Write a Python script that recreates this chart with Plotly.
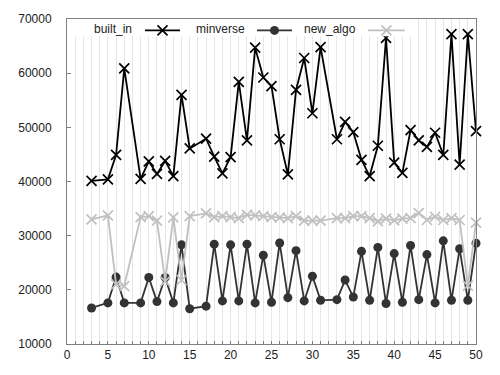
import plotly.graph_objects as go

x_vals = [3, 5, 6, 7, 9, 10, 11, 12, 13, 14, 15,
          17, 18, 19, 20, 21, 22, 23, 24, 25, 26, 27, 28, 29, 30, 31,
          33, 34, 35, 36, 37, 38, 39, 40, 41, 42, 43, 44, 45, 46, 47, 48, 49, 50]

built_in = [40100, 40400, 44900, 60900, 40500, 43700, 41400, 43800, 41000, 56000, 46100,
            47900, 44600, 41500, 44500, 58400, 47600, 64700, 59200, 57600, 47800, 41300,
            56900, 62800, 52600, 64800,
            47800, 51000, 49100, 44000, 41000, 46600, 66500, 43500, 41600, 49500, 47600,
            46400, 49000, 44900, 67200, 43100, 67200, 49300]

minverse = [16650, 17590, 22350, 17590, 17590, 22290, 17830, 22290, 17590, 28310, 16510,
            16990, 28430, 17950, 28310, 17950, 28430, 17590, 26390, 17710, 28650, 18550,
            27230, 17950, 22530, 18070,
            18190, 21810, 18670, 27110, 18070, 27830, 17470, 26690, 17710, 28190, 18190,
            26510, 17590, 29040, 18070, 27590, 18070, 28610]

new_algo = [33010, 33730, 21000, 20700, 33430, 33610, 32770, 21550, 33370, 21800, 33610,
            34100, 33430, 33610, 33430, 33250, 33850, 33730, 33610, 33430, 33340, 33250,
            33610, 32770, 32770, 32770,
            33250, 33250, 33610, 33610, 33250, 32650, 33130, 32830, 33130, 33250, 34160,
            32890, 33490, 32890, 33250, 32890, 20780, 32410]

series_names = ["built_in", "minverse", "new_algo"]
y_ticks = [10000, 20000, 30000, 40000, 50000, 60000, 70000]

BLACK = "#000000"
DARK = "#333333"
LIGHT = "#c0c0c0"
FONT = "Liberation Sans, Arial, sans-serif"

styles = {
    "built_in": dict(line=dict(color=BLACK, width=1.8),
                     marker=dict(symbol="x-thin", size=10, color=BLACK,
                                 line=dict(width=1.7, color=BLACK))),
    "minverse": dict(line=dict(color=DARK, width=1.8),
                     marker=dict(symbol="circle", size=9, color=DARK,
                                 line=dict(width=0))),
    "new_algo": dict(line=dict(color=LIGHT, width=1.8),
                     marker=dict(symbol="x-thin", size=10, color=LIGHT,
                                 line=dict(width=1.7, color=LIGHT))),
}

fig = go.Figure()
for name, ys in zip(series_names, [built_in, minverse, new_algo]):
    fig.add_trace(go.Scatter(x=x_vals, y=ys, mode="lines+markers", name=name,
                             showlegend=False, cliponaxis=False, **styles[name]))

# Custom key (gnuplot style: label then sample) on an overlay axis in 0..1 units
key_box_right = 0.851
key_box_bottom = 0.947
fig.add_trace(go.Scatter(x=[0, key_box_right, key_box_right, 0, 0],
                         y=[key_box_bottom, key_box_bottom, 1, 1, key_box_bottom],
                         xaxis="x2", yaxis="y2", mode="lines", fill="toself",
                         fillcolor="white", line=dict(width=0), hoverinfo="skip",
                         showlegend=False))
key_text_right = [0.1638, 0.440, 0.7115]
key_line = [(0.1907, 0.2763), (0.4645, 0.5501), (0.736, 0.826)]
key_y = 0.965
for name, tr, (l0, l1) in zip(series_names, key_text_right, key_line):
    st = styles[name]
    fig.add_trace(go.Scatter(x=[l0, l1], y=[key_y, key_y], xaxis="x2", yaxis="y2",
                             mode="lines", line=st["line"], hoverinfo="skip",
                             showlegend=False))
    fig.add_trace(go.Scatter(x=[(l0 + l1) / 2], y=[key_y], xaxis="x2", yaxis="y2",
                             mode="markers", marker=st["marker"], hoverinfo="skip",
                             showlegend=False))
    fig.add_annotation(text=name, xref="paper", yref="paper", x=tr, y=0.968,
                       xanchor="right", yanchor="middle", showarrow=False,
                       font=dict(family=FONT, size=12, color="#222"))

fig.update_layout(
    width=500, height=375,
    margin=dict(l=67, r=24, t=15, b=31),
    paper_bgcolor="white", plot_bgcolor="white",
    font=dict(family=FONT, size=12, color="#222"),
    xaxis=dict(range=[0, 50], dtick=5, tick0=0, showgrid=True, gridcolor="#e6e6e6",
               gridwidth=1, zeroline=False, showline=True, linecolor="#808080",
               linewidth=1, mirror=True, ticks="inside", ticklen=3, tickcolor="#808080",
               ticklabelstandoff=0,
               minor=dict(dtick=1, showgrid=True, gridcolor="#e6e6e6", ticks="inside",
                          ticklen=3, tickcolor="#808080")),
    yaxis=dict(range=[10000, 70000], tickvals=y_ticks, tickformat="d", showgrid=False,
               zeroline=False, showline=True, linecolor="#808080", linewidth=1,
               mirror=True, ticks="inside", ticklen=4, tickcolor="#808080",
               ticklabelstandoff=12),
    xaxis2=dict(overlaying="x", range=[0, 1], visible=False, fixedrange=True),
    yaxis2=dict(overlaying="y", range=[0, 1], visible=False, fixedrange=True),
)

fig.write_html("out.html",
               config={"displayModeBar": False},
               post_script="document.body.style.margin='0';document.body.style.padding='0';")
